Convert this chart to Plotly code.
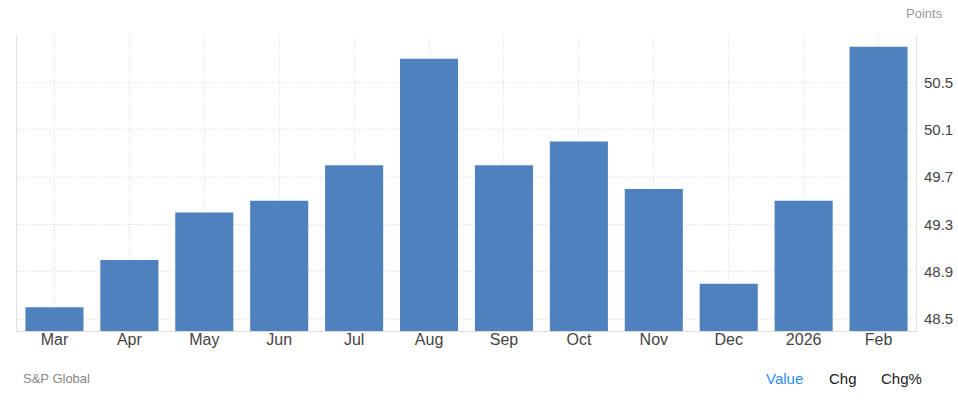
import plotly.graph_objects as go

categories = ["Mar", "Apr", "May", "Jun", "Jul", "Aug", "Sep", "Oct", "Nov", "Dec", "2026", "Feb"]
values = [48.6, 49.0, 49.4, 49.5, 49.8, 50.7, 49.8, 50.0, 49.6, 48.8, 49.5, 50.8]
y_tickvals = [48.5, 48.9, 49.3, 49.7, 50.1, 50.5, 50.9]
y_ticktext = ["48.5", "48.9", "49.3", "49.7", "50.1", "50.5", ""]
y_range = [48.4, 50.9]

FONT = "Liberation Sans, Arial, sans-serif"

fig = go.Figure(go.Bar(
    x=categories, y=values,
    marker=dict(color="#4e81bd", line=dict(width=0)),
    hoverinfo="x+y",
))

fig.update_layout(
    width=958, height=400,
    margin=dict(l=17, r=42, t=35, b=69, autoexpand=False),
    paper_bgcolor="white", plot_bgcolor="white",
    bargap=0.225,
    showlegend=False,
    font=dict(family=FONT, size=15, color="#333333"),
    xaxis=dict(
        showgrid=True, gridcolor="#dcdcdc", griddash="1px,2px", gridwidth=1,
        showline=True, linecolor="#dddddd", linewidth=1,
        ticks="", tickfont=dict(size=16, color="#444444"),
        ticklabelstandoff=-6,
        fixedrange=True,
    ),
    yaxis=dict(
        side="right", range=y_range,
        tickvals=y_tickvals, ticktext=y_ticktext,
        showgrid=True, gridcolor="#dcdcdc", griddash="1px,2px", gridwidth=1,
        showline=True, mirror=True, linecolor="#e2e2e2", linewidth=1,
        zeroline=False, ticks="", ticklabelstandoff=4,
        tickfont=dict(size=15, color="#444444"),
        fixedrange=True,
    ),
    annotations=[
        dict(text="Points", xref="paper", yref="paper", x=1.0 + 29/899, y=1 + 21/296,
             xanchor="right", yanchor="middle", showarrow=False,
             font=dict(size=13, color="#999999")),
        dict(text="S&P Global", xref="paper", yref="paper", x=4/899, y=-47/296,
             xanchor="left", yanchor="middle", showarrow=False,
             font=dict(size=13, color="#888888")),
        dict(text="Value", xref="paper", yref="paper", x=(764-17)/899, y=-47/296,
             xanchor="left", yanchor="middle", showarrow=False,
             font=dict(size=15, color="#2f8ff0")),
        dict(text="Chg", xref="paper", yref="paper", x=(827-17)/899, y=-47/296,
             xanchor="left", yanchor="middle", showarrow=False,
             font=dict(size=15, color="#222222")),
        dict(text="Chg%", xref="paper", yref="paper", x=(879-17)/899, y=-47/296,
             xanchor="left", yanchor="middle", showarrow=False,
             font=dict(size=15, color="#222222")),
    ],
)

fig.write_html("out.html", config={"displayModeBar": False},
               post_script="document.body.style.margin='0';document.body.style.overflow='hidden';")
